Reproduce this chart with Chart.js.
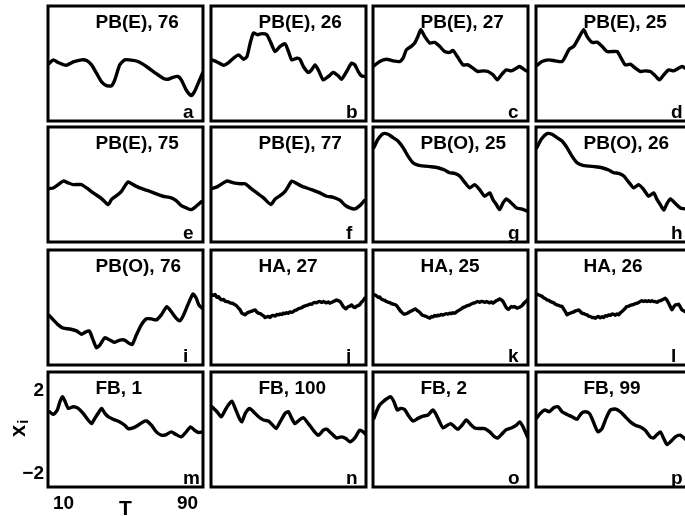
<!DOCTYPE html>
<html>
<head>
<meta charset="utf-8">
<script src="https://cdn.jsdelivr.net/npm/chart.js@4.4.1/dist/chart.umd.min.js"></script>
<style>
  html, body { margin:0; padding:0; background:#fff; }
  #wrap { position:relative; width:685px; height:516px; overflow:hidden; }
  #wrap canvas { position:absolute; }
</style>
</head>
<body>
<div id="wrap"></div>
<script>
// panel titles and corner letters, row by row
const titles = ["PB(E), 76","PB(E), 26","PB(E), 27","PB(E), 25",
                "PB(E), 75","PB(E), 77","PB(O), 25","PB(O), 26",
                "PB(O), 76","HA, 27","HA, 25","HA, 26",
                "FB, 1","FB, 100","FB, 2","FB, 99"];
const letters = ["a","b","c","d","e","f","g","h","i","j","k","l","m","n","o","p"];
const xTicks = [10, 90];
const yTicks = [-2, 2];

// [T, x_i]
const seriesA = [[0.9,0.13],[3.4,0.29],[6.6,0.16],[11.6,0.03],[16.3,0.19],[21.7,0.29],[24.9,0.26],[28.1,0.05],[31.3,-0.35],[34.5,-0.76],[37.7,-0.95],[40.9,-0.96],[43.1,-0.67],[46.3,0.05],[49.5,0.29],[53.8,0.28],[58.1,0.21],[63.5,-0.03],[68.8,-0.32],[74.2,-0.59],[77.4,-0.64],[80.6,-0.55],[83.8,-0.51],[86.0,-0.67],[89.2,-1.16],[92.4,-1.43],[94.5,-1.24],[97.3,-0.76],[99.9,-0.32]];
const seriesB = [[0.6,0.29],[3.9,0.19],[8.1,0.03],[11.4,0.16],[14.6,0.37],[17.8,0.53],[21.0,0.32],[23.2,0.45],[25.3,1.10],[27.4,1.58],[30.0,1.50],[32.8,1.55],[36.0,1.50],[38.2,1.18],[41.4,0.69],[44.6,0.94],[47.8,1.06],[50.0,0.69],[52.1,0.29],[55.3,0.37],[57.4,0.32],[59.6,-0.03],[62.8,-0.32],[64.9,-0.19],[67.1,0.05],[69.2,-0.19],[72.4,-0.67],[75.7,-0.51],[78.9,-0.32],[82.1,-0.48],[84.2,-0.64],[87.5,-0.27],[90.7,0.13],[92.8,0.05],[95.0,-0.27],[97.1,-0.48],[99.2,-0.51]];
const seriesC = [[0.6,0.00],[4.3,0.21],[8.6,0.32],[12.9,0.24],[17.2,0.21],[19.4,0.37],[21.5,0.77],[24.7,0.94],[26.9,1.10],[29.0,1.42],[30.8,1.74],[33.3,1.42],[36.6,1.10],[39.8,1.13],[43.0,0.94],[46.2,0.69],[49.5,0.65],[51.6,0.74],[54.4,0.45],[58.1,0.05],[61.3,0.05],[64.5,-0.11],[67.7,-0.27],[71.0,-0.24],[74.2,-0.27],[77.4,-0.43],[80.2,-0.67],[82.8,-0.43],[86.0,-0.19],[89.2,-0.24],[92.5,-0.11],[94.6,-0.03],[97.8,-0.19],[100,-0.27]];
const seriesD = [[0.6,0.03],[3.9,0.21],[8.2,0.29],[12.5,0.24],[16.8,0.21],[18.9,0.45],[21.5,0.81],[24.3,0.94],[27.5,1.34],[30.8,1.74],[32.9,1.42],[36.1,1.13],[39.4,1.14],[42.6,0.94],[45.8,0.69],[49.0,0.69],[52.3,0.69],[54.4,0.45],[57.6,0.05],[60.9,0.08],[64.1,-0.11],[67.3,-0.27],[70.5,-0.24],[73.8,-0.27],[77.0,-0.48],[79.6,-0.67],[82.4,-0.43],[85.6,-0.19],[88.8,-0.24],[92.0,-0.11],[94.2,-0.03],[96.3,-0.11],[98.5,-0.20],[100,-0.27]];
const seriesE = [[0.9,-0.08],[3.4,-0.05],[6.6,0.11],[9.9,0.28],[13.1,0.19],[16.3,0.11],[21.7,0.11],[24.9,-0.05],[29.2,-0.29],[34.5,-0.56],[38.8,-0.85],[40.9,-0.61],[44.2,-0.42],[47.4,-0.21],[49.5,0.03],[51.7,0.24],[54.9,0.11],[59.2,-0.05],[64.5,-0.18],[69.9,-0.34],[74.2,-0.45],[79.5,-0.53],[82.7,-0.66],[86.0,-0.90],[89.2,-1.01],[92.4,-1.09],[95.6,-0.93],[98.8,-0.72]];
const seriesF = [[0.6,-0.08],[3.9,0.00],[7.1,0.15],[10.3,0.28],[14.6,0.19],[18.9,0.15],[22.1,0.15],[25.3,-0.05],[29.6,-0.29],[33.9,-0.53],[38.6,-0.85],[41.4,-0.58],[44.6,-0.42],[47.8,-0.21],[49.9,0.03],[52.1,0.28],[55.3,0.16],[59.6,0.00],[64.9,-0.13],[70.3,-0.29],[74.6,-0.45],[78.9,-0.50],[83.2,-0.64],[86.4,-0.88],[89.6,-1.01],[92.8,-1.06],[96.0,-0.90],[99.2,-0.64]];
const seriesG = [[0.6,1.89],[3.2,2.29],[6.5,2.56],[9.7,2.53],[12.9,2.37],[16.1,2.21],[19.4,1.89],[22.6,1.48],[25.8,1.16],[29.0,1.05],[33.3,1.00],[37.6,0.97],[41.9,0.92],[46.2,0.81],[49.5,0.68],[52.7,0.65],[55.9,0.52],[59.1,0.23],[62.4,-0.05],[65.6,0.11],[68.8,-0.13],[72.0,-0.45],[75.3,-0.29],[77.4,-0.61],[79.6,-0.85],[81.7,-1.09],[83.9,-0.77],[86.0,-0.58],[89.2,-0.77],[92.5,-1.01],[95.7,-1.06],[99.6,-1.17]];
const seriesH = [[0.6,1.89],[3.4,2.29],[7.1,2.56],[10.3,2.53],[13.5,2.37],[16.8,2.21],[20.0,1.89],[23.2,1.48],[26.5,1.16],[29.7,1.05],[34.0,1.00],[38.3,0.97],[42.6,0.92],[46.9,0.81],[50.1,0.68],[53.3,0.65],[56.6,0.52],[59.8,0.23],[63.0,-0.05],[66.2,0.11],[69.5,-0.13],[72.7,-0.45],[75.9,-0.29],[78.1,-0.61],[80.2,-0.85],[82.4,-1.12],[84.5,-0.80],[86.7,-0.58],[89.9,-0.80],[93.1,-1.01],[96.3,-1.06],[100,-1.15]];
const seriesI = [[0.9,-0.27],[3.4,-0.48],[6.6,-0.72],[9.9,-0.88],[14.1,-0.92],[18.4,-1.01],[21.7,-1.17],[23.8,-1.08],[26.6,-1.01],[28.7,-1.37],[31.3,-1.82],[33.4,-1.69],[36.7,-1.34],[39.9,-1.45],[43.1,-1.56],[46.3,-1.45],[49.5,-1.45],[52.3,-1.61],[54.4,-1.66],[57.0,-1.21],[60.2,-0.72],[63.5,-0.43],[66.7,-0.43],[69.9,-0.48],[73.1,-0.24],[76.7,0.16],[79.5,-0.08],[82.7,-0.40],[84.9,-0.53],[87.0,-0.32],[90.2,0.24],[93.5,0.76],[95.6,0.57],[97.3,0.24],[99.5,0.08]];
const seriesJ = [[0.6,0.73],[1.8,0.70],[2.6,0.74],[3.9,0.60],[5.0,0.63],[6.0,0.52],[7.1,0.48],[8.2,0.50],[9.2,0.41],[10.3,0.40],[11.5,0.38],[12.4,0.33],[13.5,0.32],[14.5,0.30],[15.6,0.24],[16.7,0.18],[17.8,0.08],[18.8,0.00],[19.9,-0.16],[21.0,-0.20],[22.1,-0.24],[23.2,-0.15],[24.2,-0.12],[25.3,-0.08],[26.4,-0.06],[27.5,-0.02],[28.5,0.00],[29.6,-0.10],[30.7,-0.16],[31.8,-0.18],[32.8,-0.24],[33.9,-0.28],[34.9,-0.37],[36.0,-0.33],[37.1,-0.32],[38.2,-0.36],[39.2,-0.28],[40.3,-0.27],[41.4,-0.30],[42.4,-0.22],[43.5,-0.24],[44.6,-0.20],[45.6,-0.22],[46.7,-0.16],[47.8,-0.18],[48.8,-0.13],[49.9,-0.16],[51.0,-0.10],[52.1,-0.12],[53.2,-0.08],[54.2,-0.02],[55.3,0.00],[56.4,0.06],[57.4,0.08],[58.5,0.10],[59.6,0.16],[60.7,0.19],[61.7,0.22],[62.8,0.24],[63.9,0.28],[65.0,0.27],[66.0,0.33],[67.1,0.36],[68.2,0.34],[69.2,0.39],[70.3,0.40],[71.4,0.36],[72.4,0.40],[73.5,0.37],[74.6,0.34],[75.7,0.38],[76.7,0.32],[77.8,0.36],[78.9,0.40],[80.0,0.44],[81.0,0.48],[82.1,0.44],[83.2,0.40],[84.2,0.30],[85.3,0.16],[86.2,0.10],[87.0,0.05],[88.5,0.16],[89.6,0.18],[90.7,0.24],[91.8,0.15],[92.8,0.11],[93.9,0.18],[95.0,0.21],[96.0,0.26],[97.1,0.37],[98.2,0.45],[99.2,0.56],[100,0.58]];
const seriesK = [[0.6,0.73],[1.9,0.70],[3.2,0.61],[4.3,0.62],[5.4,0.52],[6.5,0.48],[7.6,0.46],[8.6,0.40],[9.7,0.37],[10.8,0.35],[11.9,0.30],[12.9,0.28],[14.0,0.26],[15.1,0.21],[16.1,0.12],[17.2,0.00],[18.6,-0.12],[20.0,-0.21],[21.1,-0.19],[22.2,-0.16],[23.4,-0.10],[24.7,-0.05],[26.0,0.00],[27.3,0.05],[28.4,-0.02],[29.5,-0.08],[30.5,-0.15],[31.6,-0.24],[33.0,-0.28],[34.4,-0.32],[35.5,-0.36],[36.6,-0.40],[37.7,-0.32],[38.7,-0.34],[39.8,-0.27],[40.9,-0.30],[41.9,-0.25],[43.0,-0.27],[44.1,-0.22],[45.1,-0.25],[46.2,-0.21],[47.3,-0.18],[48.4,-0.20],[49.5,-0.16],[50.5,-0.18],[51.6,-0.14],[52.7,-0.16],[53.8,-0.10],[54.8,-0.05],[55.9,0.00],[57.0,0.05],[58.1,0.11],[59.2,0.14],[60.2,0.18],[61.3,0.21],[62.4,0.24],[63.4,0.28],[64.5,0.32],[65.6,0.34],[66.7,0.38],[67.7,0.40],[68.8,0.37],[69.9,0.41],[71.0,0.40],[72.0,0.36],[73.1,0.40],[74.2,0.37],[75.3,0.34],[76.3,0.38],[77.4,0.32],[78.5,0.38],[79.6,0.44],[80.6,0.48],[81.7,0.53],[82.8,0.48],[83.9,0.40],[85.0,0.25],[86.0,0.11],[87.5,0.03],[88.4,0.10],[89.2,0.16],[90.3,0.14],[91.4,0.16],[92.2,0.12],[93.1,0.08],[94.2,0.12],[95.3,0.16],[96.3,0.22],[97.4,0.32],[98.5,0.40],[99.6,0.48]];
const seriesL = [[0.6,0.76],[1.8,0.72],[2.9,0.68],[3.9,0.65],[5.0,0.58],[6.1,0.54],[7.1,0.48],[8.2,0.46],[9.3,0.40],[10.3,0.37],[11.4,0.34],[12.5,0.28],[13.5,0.24],[14.6,0.22],[15.7,0.18],[16.8,0.16],[17.8,0.05],[18.9,-0.08],[20.0,-0.24],[21.1,-0.18],[22.2,-0.16],[23.3,-0.12],[24.3,-0.10],[25.4,-0.05],[26.5,-0.03],[27.5,0.00],[28.6,-0.08],[29.7,-0.16],[30.8,-0.18],[31.9,-0.22],[32.9,-0.24],[34.0,-0.30],[35.1,-0.32],[36.1,-0.37],[37.2,-0.36],[38.3,-0.40],[39.4,-0.34],[40.4,-0.32],[41.5,-0.38],[42.6,-0.33],[43.7,-0.37],[44.7,-0.28],[45.8,-0.30],[46.9,-0.24],[48.0,-0.26],[49.0,-0.20],[50.1,-0.21],[51.2,-0.26],[52.2,-0.20],[53.2,-0.24],[54.4,-0.14],[55.5,-0.08],[56.6,0.00],[57.6,0.08],[58.7,0.16],[59.8,0.18],[60.9,0.22],[61.9,0.24],[63.0,0.26],[64.1,0.30],[65.2,0.32],[66.2,0.36],[67.3,0.40],[68.4,0.44],[69.5,0.40],[70.5,0.44],[71.6,0.40],[72.7,0.44],[73.8,0.40],[74.8,0.44],[75.9,0.40],[77.0,0.40],[78.1,0.37],[79.1,0.42],[80.2,0.44],[81.3,0.48],[82.4,0.52],[83.4,0.56],[84.5,0.46],[85.6,0.32],[86.6,0.16],[87.7,0.00],[88.8,0.14],[89.9,0.24],[91.0,0.25],[92.0,0.28],[93.1,0.14],[94.2,0.00],[95.3,-0.04],[96.3,-0.08],[97.5,0.02],[98.6,0.12],[100,0.22]];
const seriesM = [[0.9,0.97],[3.4,0.84],[6.0,1.05],[7.7,1.45],[9.4,1.69],[10.9,1.48],[13.1,1.13],[16.3,1.21],[19.5,1.13],[22.7,0.89],[25.9,0.57],[28.1,0.40],[30.2,0.65],[33.0,0.97],[34.5,1.13],[36.7,0.89],[38.8,0.73],[42.0,0.61],[46.3,0.48],[49.5,0.32],[51.7,0.16],[54.9,0.19],[58.1,0.32],[61.3,0.48],[63.5,0.53],[66.7,0.32],[69.9,0.00],[73.1,-0.16],[76.3,-0.13],[79.5,0.00],[82.7,-0.13],[86.0,-0.24],[89.2,0.00],[92.0,0.24],[94.5,0.08],[97.3,-0.03],[99.5,0.00]];
const seriesN = [[0.6,1.21],[3.9,0.97],[6.6,0.73],[9.2,1.05],[11.4,1.32],[13.5,1.48],[15.6,1.13],[17.8,0.73],[19.9,0.48],[22.1,0.89],[24.9,1.13],[27.4,0.97],[30.7,0.73],[33.9,0.57],[37.1,0.52],[39.9,0.32],[42.0,0.16],[44.6,0.48],[47.8,0.89],[49.9,0.97],[52.1,0.65],[54.2,0.40],[57.0,0.57],[59.6,0.68],[62.8,0.40],[66.0,0.08],[69.2,-0.16],[72.5,0.08],[74.6,0.13],[77.8,-0.08],[81.0,-0.29],[84.2,-0.24],[87.0,-0.32],[89.6,-0.48],[92.8,-0.29],[96.0,0.08],[98.2,0.00],[99.9,-0.13]];
const seriesO = [[0.6,0.65],[2.2,0.97],[4.3,1.29],[6.5,1.45],[8.6,1.58],[11.4,1.69],[13.5,1.45],[15.7,1.05],[17.8,1.13],[20.4,1.08],[22.6,0.81],[25.8,0.52],[29.0,0.65],[32.3,0.76],[35.5,0.81],[38.7,1.05],[40.9,0.81],[43.0,0.48],[45.2,0.19],[48.0,0.32],[50.1,0.40],[52.7,0.24],[54.8,0.13],[57.4,0.32],[60.2,0.57],[63.0,0.36],[65.6,0.19],[68.8,0.16],[72.0,0.16],[75.3,0.00],[78.5,-0.24],[80.6,-0.29],[82.8,-0.13],[86.0,0.11],[89.2,0.19],[92.5,0.32],[94.6,0.48],[96.8,0.24],[99.6,-0.24]];
const seriesP = [[0.6,0.68],[2.8,0.89],[5.6,1.05],[8.6,0.97],[11.4,1.16],[14.2,1.21],[16.8,0.97],[20.0,0.84],[23.2,0.73],[26.5,0.61],[29.2,0.89],[31.8,0.97],[34.4,0.89],[36.1,0.65],[38.3,0.24],[40.0,0.00],[42.6,0.16],[45.2,0.65],[48.0,1.05],[51.2,1.10],[54.4,0.97],[57.6,0.73],[60.9,0.48],[64.1,0.32],[67.3,0.24],[70.5,0.08],[73.8,-0.24],[75.9,-0.29],[78.1,-0.13],[80.2,0.00],[82.4,-0.32],[84.5,-0.61],[86.7,-0.48],[89.9,-0.24],[93.1,-0.16],[96.3,-0.35],[98.5,-0.45],[100,-0.40]];

const series = [seriesA, seriesB, seriesC, seriesD, seriesE, seriesF, seriesG, seriesH,
                seriesI, seriesJ, seriesK, seriesL, seriesM, seriesN, seriesO, seriesP];

const FONT = '"Liberation Sans", Arial, Helvetica, sans-serif';
const colLeft = [48, 211, 373, 536];
const rowTop = [6, 127, 250, 372];
const boxW = 155, boxH = 115;
const Y_MIN = -2.65, Y_MAX = 2.88;

// box outline + title + corner letter
const frame = {
  id: 'frame',
  afterDraw(chart, args, opts){
    const ctx = chart.ctx, a = chart.chartArea;
    ctx.save();
    ctx.lineWidth = 3; ctx.strokeStyle = '#000';
    ctx.strokeRect(a.left, a.top, a.right - a.left, a.bottom - a.top);
    ctx.fillStyle = '#000';
    ctx.font = 'bold 19px ' + FONT;
    ctx.textAlign = 'left';
    ctx.textBaseline = 'middle';
    ctx.fillText(opts.title, a.left + 47.5, a.top + 16.6);
    ctx.textBaseline = 'alphabetic';
    ctx.fillText(opts.letter, a.left + 135, a.bottom - 3.5);
    ctx.restore();
  }
};

// axis names for the bottom-left panel only
const axisText = {
  id: 'axisText',
  afterDraw(chart){
    const ctx = chart.ctx, a = chart.chartArea;
    ctx.save();
    ctx.fillStyle = '#000';
    ctx.font = 'bold 21px ' + FONT;
    ctx.textAlign = 'center';
    ctx.textBaseline = 'alphabetic';
    ctx.fillText('T', (a.left + a.right) / 2, chart.height - 1);
    ctx.translate(25, a.top + 65);
    ctx.rotate(-Math.PI / 2);
    ctx.textAlign = 'left';
    ctx.font = 'bold 22px ' + FONT;
    ctx.fillText('x', 0, 0);
    const w = ctx.measureText('x').width;
    ctx.font = 'bold 15px ' + FONT;
    ctx.fillText('i', w + 1, 3);
    ctx.restore();
  }
};

const wrap = document.getElementById('wrap');

series.forEach((pts, i) => {
  const r = Math.floor(i / 4), c = i % 4;
  const isM = i === 12;
  const left = isM ? 0 : colLeft[c] - 3;
  const top = rowTop[r] - 3;
  const w = isM ? colLeft[c] + boxW + 3 : boxW + 6;
  const h = isM ? 516 - top : boxH + 6;

  const canvas = document.createElement('canvas');
  canvas.width = w; canvas.height = h;
  canvas.style.left = left + 'px'; canvas.style.top = top + 'px';
  canvas.style.width = w + 'px'; canvas.style.height = h + 'px';
  wrap.appendChild(canvas);

  const tickFont = { family: FONT, size: 19, weight: 'bold' };

  new Chart(canvas, {
    type: 'line',
    data: {
      datasets: [{
        data: pts.map(p => ({ x: p[0], y: p[1] })),
        borderColor: '#000', borderWidth: 3.4, pointRadius: 0,
        tension: 0.2, borderJoinStyle: 'round', borderCapStyle: 'round', clip: 1
      }]
    },
    options: {
      responsive: false, animation: false, devicePixelRatio: 1,
      layout: { padding: isM ? { left: 0, top: 3, right: 3, bottom: 0 } : 3 },
      plugins: {
        legend: { display: false }, tooltip: { enabled: false },
        frame: { title: titles[i], letter: letters[i] }
      },
      scales: {
        x: {
          type: 'linear', min: 0, max: 100, display: isM,
          grid: { display: false, drawTicks: false }, border: { display: false },
          afterBuildTicks: s => { if (isM) s.ticks = xTicks.map(v => ({ value: v })); },
          afterFit: s => {
            if (!isM) return;
            s.height = h - 3 - boxH;
            s.paddingLeft = 0; s.paddingRight = 0;
          },
          ticks: { font: tickFont, color: '#000', padding: 5, maxRotation: 0, autoSkip: false }
        },
        y: {
          type: 'linear', min: Y_MIN, max: Y_MAX, display: isM,
          grid: { display: false, drawTicks: false }, border: { display: false },
          afterBuildTicks: s => { if (isM) s.ticks = yTicks.map(v => ({ value: v })); },
          afterFit: s => {
            if (!isM) return;
            s.width = colLeft[0];
            s.paddingTop = 0; s.paddingBottom = 0;
          },
          ticks: { font: tickFont, color: '#000', padding: 4, autoSkip: false,
                   callback: v => String(v).replace('-', '\u2212') }
        }
      }
    },
    plugins: isM ? [frame, axisText] : [frame]
  });
});
</script>
</body>
</html>
